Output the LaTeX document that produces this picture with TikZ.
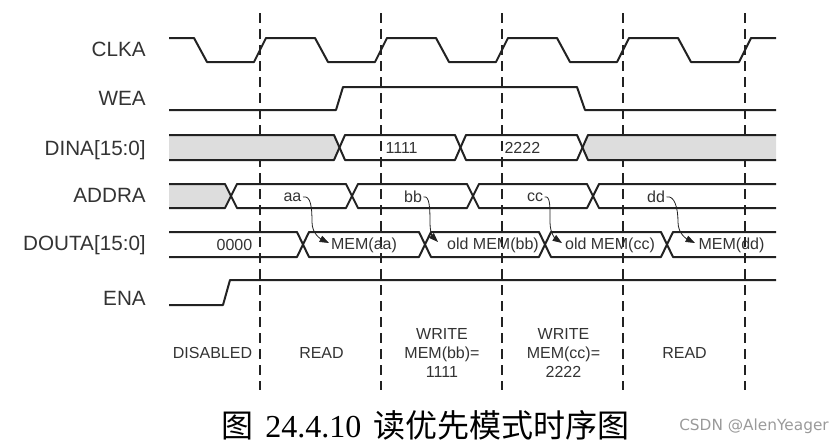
\documentclass[tikz,border=0pt]{standalone}
\usepackage{fontspec}
\setmainfont{Liberation Sans}
\newfontfamily\cjk{Noto Sans CJK SC}
\newfontfamily\capfont{Liberation Serif}
\newfontfamily\wmfont{DejaVu Sans}
\usetikzlibrary{arrows.meta}
\definecolor{wave}{HTML}{222222}
\definecolor{txt}{HTML}{333333}
\definecolor{busgrey}{HTML}{DDDDDD}
\definecolor{mark}{HTML}{9A9A9A}
\tikzset{
  sig/.style={draw=wave, line width=1.5pt, line join=round},
  phase/.style={draw=wave, line width=0.9pt, dash pattern=on 7.5pt off 4.5pt},
  signame/.style={anchor=east, inner sep=0pt, text=txt, font=\fontsize{15.5}{18}\selectfont},
  val/.style={inner sep=1pt, text=txt, font=\fontsize{12}{14}\selectfont},
  phasename/.style={align=center, text=txt, font=\fontsize{12}{14.6}\selectfont},
  memarrow/.style={draw=wave, line width=0.6pt, -{Triangle[length=7pt,width=5pt]}}
}

\begin{document}
\begin{tikzpicture}[x=0.75pt, y=-0.75pt]
\useasboundingbox (0,0) rectangle (840,444);
% Signal names
    \node[signame] (lclka)  at (146,49)  {CLKA};
    \node[signame] (lwea)   at (146,98)  {WEA};
    \node[signame] (ldina)  at (146,150) {DINA[15:0]};
    \node[signame] (laddra) at (146,195) {ADDRA};
    \node[signame] (ldouta) at (146,245) {DOUTA[15:0]};
    \node[signame] (lena)   at (146,298) {ENA};
% Phase borders
    \draw[phase] (260,13) -- (260,390);
    \draw[phase] (381,13) -- (381,390);
    \draw[phase] (502,13) -- (502,390);
    \draw[phase] (623,13) -- (623,390);
    \draw[phase] (745,13) -- (745,390);
% Grey (don't care) parts
    \fill[busgrey] (169,135) -- (334,135) -- (339.5,147.5) -- (334,160) -- (169,160) -- cycle;
    \fill[busgrey] (588,135) -- (776,135) -- (776,160) -- (588,160) -- (582.5,147.5) -- cycle;
    \fill[busgrey] (169,184) -- (225,184) -- (231,196) -- (225,208) -- (169,208) -- cycle;
% CLKA
    \draw[sig] (169,38) -- (194,38) -- (207,62) -- (254,62) -- (266,38) -- (315,38) -- (328,62)
        -- (375,62) -- (387,38) -- (436,38) -- (449,62) -- (496,62) -- (508,38) -- (557,38)
        -- (570,62) -- (617,62) -- (629,38) -- (678,38) -- (691,62) -- (739,62) -- (751,38) -- (776,38);
% WEA
    \draw[sig] (169,110) -- (336,110) -- (343,87) -- (577,87) -- (585,110) -- (776,110);
% DINA
    \draw[sig] (169,135) -- (334,135) -- (345,160) -- (455,160) -- (466,135) -- (577,135) -- (588,160) -- (776,160);
    \draw[sig] (169,160) -- (334,160) -- (345,135) -- (455,135) -- (466,160) -- (577,160) -- (588,135) -- (776,135);
% ADDRA
    \draw[sig] (169,184) -- (225,184) -- (237,208) -- (346,208) -- (358,184) -- (467,184) -- (479,208)
        -- (587,208) -- (599,184) -- (776,184);
    \draw[sig] (169,208) -- (225,208) -- (237,184) -- (346,184) -- (358,208) -- (467,208) -- (479,184)
        -- (587,184) -- (599,208) -- (776,208);
% DOUTA
    \draw[sig] (169,232) -- (297,232) -- (309,257) -- (419,257) -- (431,232) -- (539,232) -- (551,257)
        -- (661,257) -- (673,232) -- (776,232);
    \draw[sig] (169,257) -- (297,257) -- (309,232) -- (419,232) -- (431,257) -- (539,257) -- (551,232)
        -- (661,232) -- (673,257) -- (776,257);
% ENA
    \draw[sig] (169,305) -- (223,305) -- (230,280) -- (776,280);
% Bus values
    \node[val, anchor=west] (d1) at (384,147.5) {1111};
    \node[val, anchor=west] (d2) at (503,147.5) {2222};
    \node[val] (aa) at (292.5,197) {aa};
    \node[val] (bb) at (413,197) {bb};
    \node[val] (cc) at (535,197) {cc};
    \node[val] (dd) at (656,197) {dd};
    \node[val] (q0) at (234.5,245) {0000};
    \node[val] (qaa) at (364,245) {MEM(aa)};
    \node[val] (qbb) at (493,245) {old MEM(bb)};
    \node[val] (qcc) at (610,245) {old MEM(cc)};
    \node[val] (qdd) at (731.5,245) {MEM(dd)};
% Address to data arrows
    \coordinate (maa) at (312,222);
    \coordinate (taa) at (329,243);
    \coordinate (mbb) at (430,222);
    \coordinate (tbb) at (438,242);
    \coordinate (mcc) at (550,222);
    \coordinate (tcc) at (562,243);
    \coordinate (mdd) at (678,222);
    \coordinate (tdd) at (695,243);
    \draw[memarrow] (aa.east) .. controls +(8,-2) and +(0,-14) .. (maa) .. controls +(0,12) and +(-8,-4) .. (taa);
    \draw[memarrow] (bb.east) .. controls +(6,-2) and +(0,-14) .. (mbb) .. controls +(0,12) and +(-5,-5) .. (tbb);
    \draw[memarrow] (cc.east) .. controls +(6,-2) and +(0,-14) .. (mcc) .. controls +(0,12) and +(-6,-4) .. (tcc);
    \draw[memarrow] (dd.east) .. controls +(8,-2) and +(0,-14) .. (mdd) .. controls +(0,12) and +(-8,-4) .. (tdd);
% Phase names
    \node[phasename] (p1) at (212.5,353) {DISABLED};
    \node[phasename] (p2) at (321.5,353) {READ};
    \node[phasename] (p3) at (442,353) {WRITE\\MEM(bb)=\\1111};
    \node[phasename] (p4) at (563.5,353) {WRITE\\MEM(cc)=\\2222};
    \node[phasename] (p5) at (684.5,353) {READ};
% Caption
    \node[anchor=west, inner sep=0pt, font=\fontsize{24}{28}\selectfont] (cap) at (221,425)
        {{\cjk 图}\hspace{9pt}{\capfont 24.4.10}\hspace{9pt}{\cjk 读优先模式时序图}};
    \node[text=mark, font=\wmfont\fontsize{11.5}{13}\selectfont] (wm) at (754,426) {CSDN @AlenYeager};
\end{tikzpicture}
\end{document}
